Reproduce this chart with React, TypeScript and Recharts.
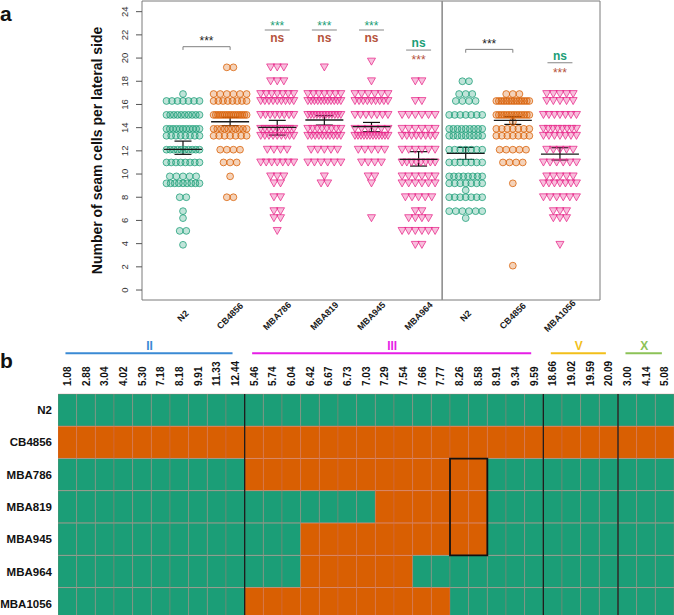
import React from 'react';
import {
  ScatterChart,
  Scatter,
  XAxis,
  YAxis,
  ErrorBar,
  ReferenceLine,
  ReferenceArea,
  BarChart,
  Bar,
  Cell,
  ComposedChart,
} from 'recharts';

const FONT = '"Liberation Sans", Arial, Helvetica, sans-serif';
const GREEN = '#1b9e77';
const ORANGE = '#d95f02';
const PINK = '#e7298a';
const BROWN = '#b5533c';

// ---- panel a ----
const groups = ['N2', 'CB4856', 'MBA786', 'MBA819', 'MBA945', 'MBA964', 'N2', 'CB4856', 'MBA1056'];
const groupKind = ['n2', 'cb', 'mba', 'mba', 'mba', 'mba', 'n2', 'cb', 'mba'];

// [seam cells, number of animals]
const n2Left = [[16.9, 1], [16.3, 7], [15.1, 10], [13.9, 11], [13.3, 8], [12.1, 10], [11.0, 8], [9.8, 5], [9.2, 9], [8.0, 2], [6.8, 1], [6.2, 1], [5.1, 2], [3.9, 1]];
const cbLeft = [[19.2, 2], [16.9, 6], [16.3, 8], [15.1, 16], [13.9, 10], [13.3, 7], [12.1, 4], [11.0, 3], [9.8, 1], [8.0, 2]];
const mba786 = [[19.2, 3], [18.0, 3], [16.9, 7], [16.3, 9], [15.1, 8], [13.9, 9], [13.3, 9], [12.1, 4], [11.0, 7], [9.8, 3], [9.2, 2], [8.0, 2], [6.8, 2], [6.2, 2], [5.1, 1]];
const mba819 = [[19.2, 1], [16.9, 7], [16.3, 11], [15.1, 12], [13.9, 8], [13.3, 10], [12.1, 5], [11.0, 6], [9.8, 1], [9.2, 2]];
const mba945 = [[19.7, 1], [18.0, 1], [16.9, 6], [16.3, 9], [15.1, 7], [13.9, 6], [13.3, 12], [12.1, 5], [11.0, 4], [9.8, 2], [9.2, 1], [6.2, 1]];
const mba964 = [[18.0, 2], [16.3, 2], [15.1, 6], [13.9, 6], [13.3, 8], [12.1, 6], [11.0, 8], [9.8, 6], [9.2, 6], [8.0, 5], [6.8, 2], [6.2, 4], [5.1, 6], [3.9, 2]];
const n2Right = [[18.0, 2], [16.9, 3], [16.3, 4], [15.1, 7], [13.9, 9], [13.3, 9], [12.1, 7], [11.0, 7], [9.8, 8], [9.2, 7], [8.6, 1], [8.0, 7], [6.8, 6], [6.2, 1]];
const cbRight = [[16.9, 3], [16.3, 14], [15.1, 14], [14.5, 1], [13.9, 7], [13.3, 7], [12.1, 5], [11.0, 4], [9.2, 1], [2.1, 1]];
const mba1056 = [[16.9, 5], [16.3, 5], [15.1, 7], [13.9, 8], [13.3, 7], [12.1, 5], [11.0, 6], [9.8, 5], [9.2, 7], [8.0, 6], [6.8, 3], [6.2, 3], [3.9, 1]];
const swarmRows = [n2Left, cbLeft, mba786, mba819, mba945, mba964, n2Right, cbRight, mba1056];

const means = [12.13, 14.51, 14.02, 14.66, 14.08, 11.26, 11.78, 14.63, 11.72];
const semHigh = [12.84, 14.89, 14.63, 15.03, 14.45, 11.93, 12.3, 14.94, 12.27];
const semLow = [11.7, 14.17, 13.36, 14.22, 13.65, 10.69, 11.26, 14.28, 11.21];

const sigText = [
  { x: 0.5, y: 21.75, t: '***', c: '#222' },
  { x: 2, y: 23.07, t: '***', c: GREEN },
  { x: 2, y: 21.64, t: 'ns', c: BROWN },
  { x: 3, y: 23.07, t: '***', c: GREEN },
  { x: 3, y: 21.64, t: 'ns', c: BROWN },
  { x: 4, y: 23.07, t: '***', c: GREEN },
  { x: 4, y: 21.64, t: 'ns', c: BROWN },
  { x: 5, y: 21.24, t: 'ns', c: GREEN },
  { x: 5, y: 20.09, t: '***', c: BROWN },
  { x: 6.5, y: 21.45, t: '***', c: '#222' },
  { x: 8, y: 20.15, t: 'ns', c: GREEN },
  { x: 8, y: 19.0, t: '***', c: BROWN },
];
const sigLines = [
  { g: 2, y: 22.42 },
  { g: 3, y: 22.42 },
  { g: 4, y: 22.42 },
  { g: 5, y: 20.69 },
  { g: 8, y: 19.6 },
];
const brackets = [
  { a: 0, b: 1, y: 20.98, end: 20.7 },
  { a: 6, b: 7, y: 20.75, end: 20.46 },
];

// ---- panel b ----
const markers = [
  '1.08', '2.88', '3.04', '4.02', '5.30', '7.18', '8.18', '9.91', '11.33', '12.44',
  '5.46', '5.74', '6.04', '6.42', '6.67', '6.73', '7.03', '7.29', '7.54', '7.66', '7.77', '8.26', '8.58', '8.91', '9.34', '9.59',
  '18.66', '19.02', '19.59', '20.09',
  '3.00', '4.14', '5.08',
];
const chromosomes = [
  { name: 'II', from: 0, to: 10, color: '#3a8ad4' },
  { name: 'III', from: 10, to: 26, color: '#e61ee6' },
  { name: 'V', from: 26, to: 30, color: '#f2bf1a' },
  { name: 'X', from: 30, to: 33, color: '#8cc257' },
];
const strains = ['N2', 'CB4856', 'MBA786', 'MBA819', 'MBA945', 'MBA964', 'MBA1056'];
// N = N2 allele, C = CB4856 allele (II | III | V | X)
const genotypes = [
  'NNNNNNNNNN NNNNNNNNNNNNNNNN NNNN NNN',
  'CCCCCCCCCC CCCCCCCCCCCCCCCC CCCC CCC',
  'NNNNNNNNNN CCCCCCCCCCCCCNNN NNNN NNN',
  'NNNNNNNNNN NNNNNNNCCCCCCNNN NNNN NNN',
  'NNNNNNNNNN NNNCCCCCCCCCCNNN NNNN NNN',
  'NNNNNNNNNN NNNCCCCCCNNNNNNN NNNN NNN',
  'NNNNNNNNNN CCCCCCCCCCCNNNNN NNNN NNN',
].map((s) => s.replace(/ /g, ''));
// boxed interval: markers 8.26-8.58 on III, strains MBA786 to MBA945
const boxed = { from: 21, to: 23, top: 'MBA786', bottom: 'MBA945' };

const heatRows = strains.map((strain) => {
  const row: Record<string, any> = { strain };
  markers.forEach((_, i) => {
    row[`c${i}`] = 1;
  });
  return row;
});

// ---- helpers ----
const PX_PER_UNIT = 47.1;
const STEP = 6.6 / PX_PER_UNIT;

function swarm(rows: number[][], g: number) {
  const pts: { x: number; y: number }[] = [];
  rows.forEach(([v, n]) => {
    const span = Math.min(n - 1, 5) * STEP;
    for (let k = 0; k < n; k++) {
      const off = n === 1 ? 0 : -span / 2 + (span * k) / (n - 1);
      pts.push({ x: g + off, y: v });
    }
  });
  return pts;
}

const circleShape = (color: string) => (p: any) => (
  <circle cx={p.cx} cy={p.cy} r={3.4} fill={color} fillOpacity={0.28} stroke={color} strokeWidth={0.9} strokeOpacity={0.85} />
);
const triShape = (p: any) => (
  <path
    d={`M${p.cx - 4},${p.cy - 3.4}L${p.cx + 4},${p.cy - 3.4}L${p.cx},${p.cy + 3.6}Z`}
    fill={PINK}
    fillOpacity={0.3}
    stroke={PINK}
    strokeWidth={0.9}
    strokeOpacity={0.85}
  />
);

const MeanLine = (p: any) => (
  <line x1={p.cx - 19} x2={p.cx + 19} y1={p.cy} y2={p.cy} stroke="#1a1a1a" strokeWidth={1.3} />
);

const SigText = (p: any) => {
  const d = p.payload ?? p;
  const fs = 12;
  const shift = d.t === 'ns' ? fs * 0.27 : fs * 0.6;
  return (
    <text x={p.cx} y={p.cy + shift} textAnchor="middle" fontSize={fs} fontWeight={d.t === 'ns' ? 700 : 400} fill={d.c} fontFamily={FONT}>
      {d.t}
    </text>
  );
};

const GroupTick = (p: any) => (
  <text
    x={p.x}
    y={p.y}
    transform={`rotate(-45 ${p.x} ${p.y})`}
    textAnchor="middle"
    dominantBaseline="central"
    fontSize={9}
    fontWeight={700}
    fill="#1a1a1a"
    fontFamily={FONT}
  >
    {groups[p.payload.value]}
  </text>
);

const YTick = (p: any) => (
  <text
    x={p.x}
    y={p.y}
    transform={`rotate(-90 ${p.x} ${p.y})`}
    textAnchor="middle"
    dominantBaseline="central"
    fontSize={9.5}
    fill="#333"
    fontFamily={FONT}
  >
    {p.payload.value}
  </text>
);

const yTitle = (p: any) => {
  const vb = p.viewBox;
  const x = vb.x + vb.width - 45;
  const y = vb.y + vb.height / 2;
  return (
    <text
      x={x}
      y={y}
      transform={`rotate(-90 ${x} ${y})`}
      textAnchor="middle"
      dominantBaseline="central"
      fontSize={14}
      fontWeight={700}
      fill="#111"
      fontFamily={FONT}
    >
      Number of seam cells per lateral side
    </text>
  );
};

const MarkerTick = (p: any) => (
  <text
    x={p.x}
    y={p.y}
    transform={`rotate(-90 ${p.x} ${p.y})`}
    textAnchor="start"
    dominantBaseline="central"
    fontSize={10}
    fontWeight={700}
    fill="#111"
    fontFamily={FONT}
  >
    {markers[Math.floor(p.payload.value)]}
  </text>
);

const StrainTick = (p: any) => (
  <text x={p.x} y={p.y} textAnchor="end" dominantBaseline="central" fontSize={11.5} fontWeight={700} fill="#111" fontFamily={FONT}>
    {p.payload.value}
  </text>
);

const ChrLabel = (p: any) => {
  const d = p.payload ?? p;
  return (
    <text x={p.cx} y={p.cy} textAnchor="middle" dominantBaseline="central" fontSize={12} fontWeight={700} fill={d.color} fontFamily={FONT}>
      {d.name}
    </text>
  );
};

// shared axes for the heatmap and its overlay
function heatAxes(showTicks: boolean) {
  return [
    <XAxis
      key="x"
      type="number"
      orientation="top"
      domain={[0, 33]}
      allowDataOverflow
      ticks={markers.map((_, i) => i + 0.5)}
      interval={0}
      tick={showTicks ? MarkerTick : false}
      tickLine={false}
      axisLine={false}
      tickSize={0}
      tickMargin={8}
      height={54}
    />,
    <YAxis
      key="y"
      type="category"
      dataKey="strain"
      width={58}
      tick={showTicks ? StrainTick : false}
      tickLine={false}
      axisLine={false}
      tickSize={0}
      tickMargin={6}
      interval={0}
    />,
  ];
}

export default function App() {
  const stats = groups.map((_, i) => ({ x: i, y: means[i], err: [means[i] - semLow[i], semHigh[i] - means[i]] }));
  const chrLabels = chromosomes.map((c) => ({ x: (c.from + c.to) / 2 - 0.1, y: 0.6, name: c.name, color: c.color }));

  return (
    <div style={{ position: 'absolute', left: 0, top: 0, width: 674, height: 615, overflow: 'hidden', background: '#fff', fontFamily: FONT }}>
      <div style={{ position: 'absolute', left: 0, top: 0 }}>
        <ScatterChart width={674} height={345} margin={{ top: 1, right: 74, bottom: 0, left: 0 }}>
          <XAxis
            dataKey="x"
            type="number"
            domain={[-0.87, 8.85]}
            allowDataOverflow
            ticks={[0, 1, 2, 3, 4, 5, 6, 7, 8]}
            interval={0}
            tick={GroupTick}
            tickLine={false}
            axisLine={false}
            tickSize={0}
            tickMargin={16}
            height={45}
          />
          <YAxis
            dataKey="y"
            type="number"
            domain={[-0.86, 24.92]}
            allowDataOverflow
            ticks={[0, 2, 4, 6, 8, 10, 12, 14, 16, 18, 20, 22, 24]}
            interval={0}
            width={142}
            tick={YTick}
            tickLine={{ stroke: '#555' }}
            axisLine={false}
            tickSize={6}
            tickMargin={11}
            label={yTitle}
          />
          <ReferenceArea x1={-0.87} x2={8.85} y1={-0.86} y2={24.92} fill="none" stroke="#7a7a7a" strokeWidth={1} ifOverflow="visible" />
          <ReferenceLine x={5.5} stroke="#8f8f8f" strokeWidth={1.6} />
          {swarmRows.map((rows, i) => (
            <Scatter
              key={i}
              data={swarm(rows, i)}
              isAnimationActive={false}
              shape={groupKind[i] === 'mba' ? triShape : circleShape(groupKind[i] === 'n2' ? GREEN : ORANGE)}
            />
          ))}
          <Scatter data={stats} isAnimationActive={false} shape={MeanLine}>
            <ErrorBar dataKey="err" direction="y" width={8.5} stroke="#111" strokeWidth={1.2} />
          </Scatter>
          {sigLines.map((s, i) => (
            <ReferenceLine key={`s${i}`} segment={[{ x: s.g - 0.265, y: s.y }, { x: s.g + 0.265, y: s.y }]} stroke="#9a9a9a" strokeWidth={1.2} />
          ))}
          {brackets.map((b, i) => (
            <React.Fragment key={`b${i}`}>
              <ReferenceLine segment={[{ x: b.a, y: b.y }, { x: b.b, y: b.y }]} stroke="#808080" strokeWidth={1} />
              <ReferenceLine segment={[{ x: b.a, y: b.y }, { x: b.a, y: b.end }]} stroke="#808080" strokeWidth={1} />
              <ReferenceLine segment={[{ x: b.b, y: b.y }, { x: b.b, y: b.end }]} stroke="#808080" strokeWidth={1} />
            </React.Fragment>
          ))}
          <Scatter data={sigText} isAnimationActive={false} shape={SigText} />
        </ScatterChart>
      </div>

      <div style={{ position: 'absolute', left: 0, top: 330 }}>
        <ComposedChart width={674} height={40} margin={{ top: 0, right: 0, bottom: 0, left: 58 }}>
          <XAxis dataKey="x" type="number" domain={[0, 33]} allowDataOverflow hide />
          <YAxis dataKey="y" type="number" domain={[0, 1]} allowDataOverflow hide />
          {chromosomes.map((c) => (
            <ReferenceLine
              key={c.name}
              segment={[{ x: c.from + 0.4, y: 0.42 }, { x: c.to - 0.65, y: 0.42 }]}
              stroke={c.color}
              strokeWidth={2}
            />
          ))}
          <Scatter data={chrLabels} isAnimationActive={false} shape={ChrLabel} />
        </ComposedChart>
      </div>

      <div style={{ position: 'absolute', left: 0, top: 340 }}>
        <BarChart
          width={674}
          height={280}
          data={heatRows}
          layout="vertical"
          margin={{ top: 0, right: 0, bottom: 0, left: 0 }}
          barCategoryGap={0}
          barGap={0}
        >
          {heatAxes(true)}
          {markers.map((m, i) => (
            <Bar key={i} dataKey={`c${i}`} stackId="g" isAnimationActive={false} stroke="rgba(200,115,115,0.42)" strokeWidth={0.8}>
              {heatRows.map((r, j) => (
                <Cell key={j} fill={genotypes[j][i] === 'C' ? ORANGE : GREEN} />
              ))}
            </Bar>
          ))}
          {chromosomes.slice(1).map((c) => (
            <ReferenceLine key={c.name} x={c.from} stroke="#1c1c1c" strokeWidth={1.3} />
          ))}
        </BarChart>
      </div>

      {/* overlay so the boxed interval sits above the cells */}
      <div style={{ position: 'absolute', left: 0, top: 340, pointerEvents: 'none' }}>
        <BarChart
          width={674}
          height={280}
          data={heatRows}
          layout="vertical"
          margin={{ top: 0, right: 0, bottom: 0, left: 0 }}
          barCategoryGap={0}
          barGap={0}
        >
          {heatAxes(false)}
          <ReferenceArea
            x1={boxed.from}
            x2={boxed.to}
            y1={boxed.top}
            y2={boxed.bottom}
            fill="none"
            stroke="#111"
            strokeWidth={1.8}
            ifOverflow="visible"
          />
        </BarChart>
      </div>

      <svg width={674} height={615} style={{ position: 'absolute', left: 0, top: 0, pointerEvents: 'none' }}>
        <text x={0} y={21} fontSize={21} fontWeight={700} fill="#111" fontFamily={FONT}>a</text>
        <text x={0} y={368} fontSize={21} fontWeight={700} fill="#111" fontFamily={FONT}>b</text>
      </svg>
    </div>
  );
}
